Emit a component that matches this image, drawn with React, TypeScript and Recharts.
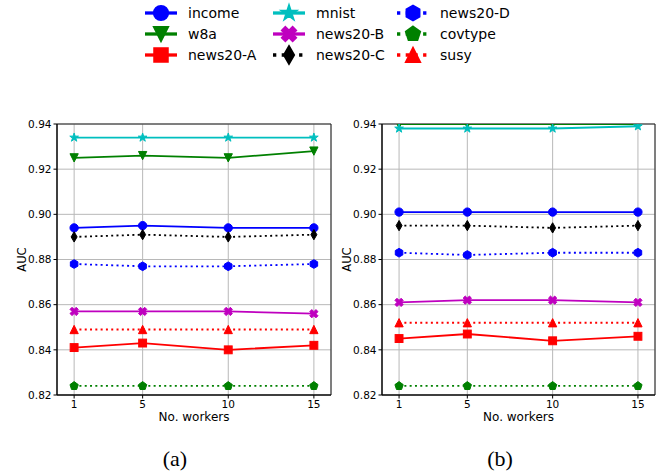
import React from 'react';
import { LineChart, Line, XAxis, YAxis, CartesianGrid, ReferenceArea } from 'recharts';

// ---------- data ----------
const workers = [1, 5, 10, 15];
const yTicks = [0.82, 0.84, 0.86, 0.88, 0.9, 0.92, 0.94];
const xTicks = [1, 5, 10, 15];
const seriesNames = ['income', 'w8a', 'news20-A', 'mnist', 'news20-B', 'news20-C', 'news20-D', 'covtype', 'susy'];

// panel (a)
const aIncome = [0.894, 0.895, 0.894, 0.894];
const aW8a = [0.925, 0.926, 0.925, 0.928];
const aNews20A = [0.841, 0.843, 0.840, 0.842];
const aMnist = [0.934, 0.934, 0.934, 0.934];
const aNews20B = [0.857, 0.857, 0.857, 0.856];
const aNews20C = [0.890, 0.891, 0.890, 0.891];
const aNews20D = [0.878, 0.877, 0.877, 0.878];
const aCovtype = [0.824, 0.824, 0.824, 0.824];
const aSusy = [0.849, 0.849, 0.849, 0.849];

// panel (b)
const bIncome = [0.901, 0.901, 0.901, 0.901];
const bW8a = [0.940, 0.940, 0.940, 0.940];
const bNews20A = [0.845, 0.847, 0.844, 0.846];
const bMnist = [0.938, 0.938, 0.938, 0.939];
const bNews20B = [0.861, 0.862, 0.862, 0.861];
const bNews20C = [0.895, 0.895, 0.894, 0.895];
const bNews20D = [0.883, 0.882, 0.883, 0.883];
const bCovtype = [0.824, 0.824, 0.824, 0.824];
const bSusy = [0.852, 0.852, 0.852, 0.852];

const panelA = [aIncome, aW8a, aNews20A, aMnist, aNews20B, aNews20C, aNews20D, aCovtype, aSusy];
const panelB = [bIncome, bW8a, bNews20A, bMnist, bNews20B, bNews20C, bNews20D, bCovtype, bSusy];

// ---------- styles ----------
type Style = { color: string; marker: string; dotted: boolean };
const styles: Style[] = [
  { color: '#0000ff', marker: 'o', dotted: false },
  { color: '#008000', marker: 'v', dotted: false },
  { color: '#ff0000', marker: 's', dotted: false },
  { color: '#00bfbf', marker: '*', dotted: false },
  { color: '#bf00bf', marker: 'X', dotted: false },
  { color: '#000000', marker: 'd', dotted: true },
  { color: '#0000ff', marker: 'h', dotted: true },
  { color: '#008000', marker: 'p', dotted: true },
  { color: '#ff0000', marker: '^', dotted: true },
];

const FONT = 'DejaVu Sans, sans-serif';

function buildRows(panel: number[][]) {
  return workers.map((w, i) => {
    const row: Record<string, number> = { w };
    seriesNames.forEach((n, k) => {
      row[n] = panel[k][i];
    });
    return row;
  });
}

function regular(cx: number, cy: number, r: number, n: number) {
  const pts: string[] = [];
  for (let k = 0; k < n; k++) {
    const a = ((-90 + (k * 360) / n) * Math.PI) / 180;
    pts.push(`${cx + r * Math.cos(a)},${cy + r * Math.sin(a)}`);
  }
  return pts.join(' ');
}

function star(cx: number, cy: number, r: number) {
  const pts: string[] = [];
  for (let k = 0; k < 10; k++) {
    const a = ((-90 + k * 36) * Math.PI) / 180;
    const rr = k % 2 === 0 ? r : r * 0.381966;
    pts.push(`${cx + rr * Math.cos(a)},${cy + rr * Math.sin(a)}`);
  }
  return pts.join(' ');
}

const xFilled = [
  [-0.25, -0.5], [0, -0.25], [0.25, -0.5], [0.5, -0.25], [0.25, 0], [0.5, 0.25],
  [0.25, 0.5], [0, 0.25], [-0.25, 0.5], [-0.5, 0.25], [-0.25, 0], [-0.5, -0.25],
];

function MarkerShape({ shape, cx, cy, s, color }: { shape: string; cx: number; cy: number; s: number; color: string }) {
  if (cx == null || cy == null || isNaN(cx) || isNaN(cy)) return null;
  const common = { fill: color, stroke: color, strokeWidth: s / 8.3 };
  const h = s / 2;
  switch (shape) {
    case 'o':
      return <circle cx={cx} cy={cy} r={h} {...common} />;
    case 'v':
      return <polygon points={`${cx - h},${cy - h} ${cx + h},${cy - h} ${cx},${cy + h}`} {...common} />;
    case '^':
      return <polygon points={`${cx - h},${cy + h} ${cx + h},${cy + h} ${cx},${cy - h}`} {...common} />;
    case 's':
      return <rect x={cx - h * 0.95} y={cy - h * 0.95} width={s * 0.95} height={s * 0.95} {...common} />;
    case '*':
      return <polygon points={star(cx, cy, h * 1.1)} {...common} />;
    case 'X':
      return <polygon points={xFilled.map(([a, b]) => `${cx + a * s},${cy + b * s}`).join(' ')} {...common} />;
    case 'd':
      return <polygon points={`${cx},${cy - s * 0.62} ${cx + s * 0.36},${cy} ${cx},${cy + s * 0.62} ${cx - s * 0.36},${cy}`} {...common} />;
    case 'h':
      return <polygon points={regular(cx, cy, h * 1.05, 6)} {...common} />;
    case 'p':
      return <polygon points={regular(cx, cy, h * 1.05, 5)} {...common} />;
    default:
      return null;
  }
}

function Panel({ panel, left, width, rightMargin }: { panel: number[][]; left: number; width: number; rightMargin: number }) {
  const rows = buildRows(panel);
  return (
    <div style={{ position: 'absolute', left, top: 0, width, height: 475 }}>
      <LineChart
        width={width}
        height={475}
        data={rows}
        margin={{ top: 124, right: rightMargin, bottom: 50, left: 0 }}
      >
        <CartesianGrid stroke="#b8b8b8" strokeWidth={1} />
        <XAxis
          dataKey="w"
          type="number"
          domain={[0, 16]}
          ticks={xTicks}
          height={30}
          tickSize={3.5}
          tickMargin={2}
          stroke="#000"
          tick={{ fill: '#000', fontSize: 10.5, fontFamily: FONT }}
          label={{ value: 'No. workers', position: 'insideBottom', offset: 4, fill: '#000', fontSize: 12, fontFamily: FONT }}
        />
        <YAxis
          type="number"
          domain={[0.82, 0.94]}
          ticks={yTicks}
          allowDataOverflow
          width={57}
          tickSize={3.5}
          tickMargin={2}
          stroke="#000"
          tickFormatter={(v: number) => v.toFixed(2)}
          tick={{ fill: '#000', fontSize: 10.5, fontFamily: FONT }}
          label={{ value: 'AUC', angle: -90, position: 'insideLeft', offset: 22, fill: '#000', fontSize: 11.5, fontFamily: FONT, style: { textAnchor: 'middle' } }}
        />
        {seriesNames.map((n, k) => {
          const st = styles[k];
          return (
            <Line
              key={n}
              dataKey={n}
              type="linear"
              stroke={st.color}
              strokeWidth={1.8}
              strokeDasharray={st.dotted ? '2 3.3' : undefined}
              isAnimationActive={false}
              dot={(p: any) => (
                <MarkerShape key={`${n}-${p.index}`} shape={st.marker} cx={p.cx} cy={p.cy} s={8.3} color={st.color} />
              )}
              activeDot={false}
            />
          );
        })}
        <ReferenceArea x1={0} x2={16} y1={0.82} y2={0.94} fill="none" stroke="#222" strokeWidth={1} />
      </LineChart>
    </div>
  );
}

const legendCols = [145, 273, 397];
const legendRows = [13, 34, 55];

function Legend() {
  return (
    <svg width={666} height={70} style={{ position: 'absolute', left: 0, top: 0 }}>
      {seriesNames.map((n, k) => {
        const st = styles[k];
        const col = Math.floor(k / 3);
        const row = k % 3;
        const x0 = legendCols[col];
        const y = legendRows[row];
        return (
          <g key={n}>
            <line
              x1={x0}
              x2={x0 + 32}
              y1={y}
              y2={y}
              stroke={st.color}
              strokeWidth={3.3}
              strokeDasharray={st.dotted ? '3.3 5.4' : undefined}
            />
            <MarkerShape shape={st.marker} cx={x0 + 16} cy={y} s={14.5} color={st.color} />
            <text x={x0 + 43} y={y + 5} fontSize={14} fontFamily={FONT} fill="#000">
              {n}
            </text>
          </g>
        );
      })}
    </svg>
  );
}

export default function App() {
  return (
    <div style={{ position: 'absolute', left: 0, top: 0, width: 666, height: 475, background: '#fff', overflow: 'hidden' }}>
      <Legend />
      <Panel panel={panelA} left={0} width={340} rightMargin={9} />
      <Panel panel={panelB} left={325} width={341} rightMargin={11} />
      <svg width={666} height={475} style={{ position: 'absolute', left: 0, top: 0, pointerEvents: 'none' }}>
        <text x={175} y={466} fontSize={22} fontFamily="Liberation Serif, serif" textAnchor="middle" fill="#000">(a)</text>
        <text x={500} y={466} fontSize={22} fontFamily="Liberation Serif, serif" textAnchor="middle" fill="#000">(b)</text>
      </svg>
    </div>
  );
}
